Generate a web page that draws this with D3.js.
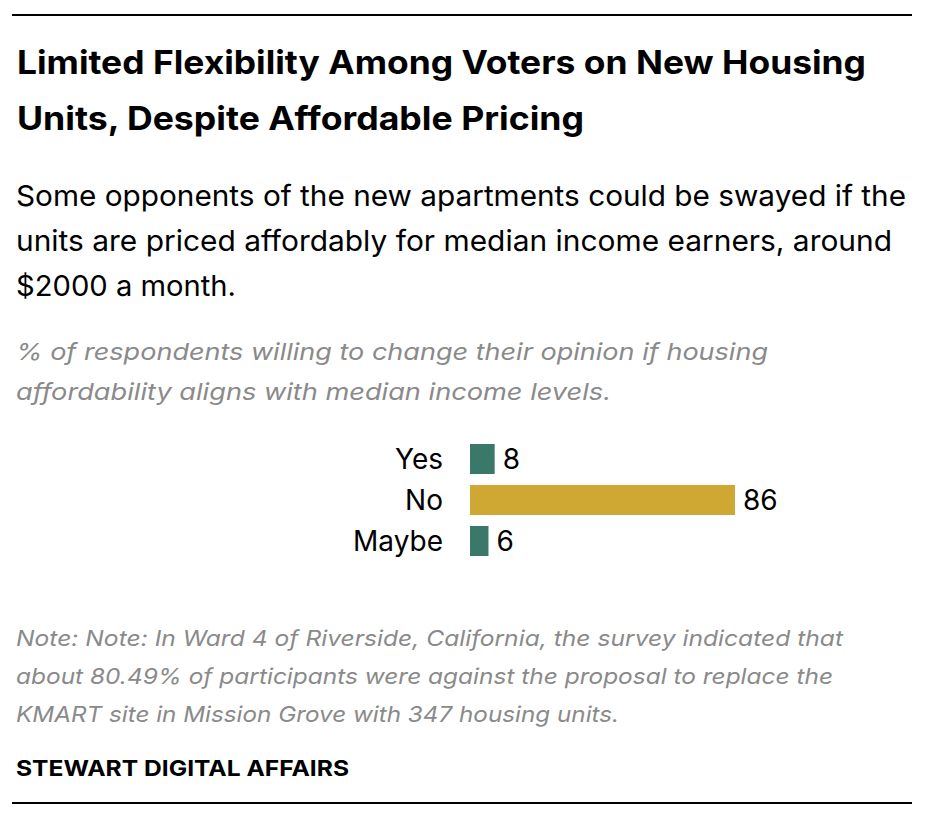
<!DOCTYPE html>
<html>
<head>
<meta charset="utf-8">
<script src="https://cdn.jsdelivr.net/npm/d3@7"></script>
<style>
  html, body { margin: 0; padding: 0; background: #ffffff; }
  svg { display: block; }
</style>
</head>
<body>
<svg id="chart" width="932" height="822"></svg>
<script>
// ---- Data ----
const categories = ["Yes", "No", "Maybe"];
const values = [8, 86, 6];
const barColors = ["#3a786a", "#cfa833", "#3a786a"];

const titleLines = [
  "Limited Flexibility Among Voters on New Housing",
  "Units, Despite Affordable Pricing"
];
const subtitleLines = [
  "Some opponents of the new apartments could be swayed if the",
  "units are priced affordably for median income earners, around",
  "$2000 a month."
];
const descLines = [
  "% of respondents willing to change their opinion if housing",
  "affordability aligns with median income levels."
];
const noteLines = [
  "Note: Note: In Ward 4 of Riverside, California, the survey indicated that",
  "about 80.49% of participants were against the proposal to replace the",
  "KMART site in Mission Grove with 347 housing units."
];
const sourceText = "STEWART DIGITAL AFFAIRS";

// ---- Layout ----
const svg = d3.select("#chart");
const left = 16;
const fontFam = "Inter, 'Noto Sans', 'Liberation Sans', sans-serif";

// rules
svg.append("line").attr("x1", 12).attr("x2", 912).attr("y1", 15).attr("y2", 15)
  .attr("stroke", "#000").attr("stroke-width", 2);
svg.append("line").attr("x1", 12).attr("x2", 912).attr("y1", 803).attr("y2", 803)
  .attr("stroke", "#000").attr("stroke-width", 2);

function textBlock(lines, opts) {
  lines.forEach((t, i) => {
    const el = svg.append("text")
      .attr("x", opts.x)
      .attr("y", opts.y0 + i * opts.dy)
      .attr("font-family", fontFam)
      .attr("font-size", opts.size)
      .attr("font-weight", opts.weight || 400)
      .attr("font-style", opts.style || "normal")
      .attr("fill", opts.fill || "#000")
      .text(t);
    if (opts.widths && opts.widths[i]) {
      el.attr("textLength", opts.widths[i]).attr("lengthAdjust", "spacingAndGlyphs");
    }
  });
}

textBlock(titleLines, { x: left + 1, y0: 74, dy: 55.5, size: 33, weight: 700,
  widths: [849, 567] });
textBlock(subtitleLines, { x: left, y0: 206, dy: 45, size: 29,
  widths: [890, 876, 220] });
textBlock(descLines, { x: left, y0: 360, dy: 40, size: 23.5, style: "italic", fill: "#8a8a8a",
  widths: [752, 595] });
textBlock(noteLines, { x: left, y0: 646, dy: 38, size: 22, style: "italic", fill: "#8a8a8a",
  widths: [827, 817, 603] });
textBlock([sourceText], { x: left, y0: 776, dy: 0, size: 22, weight: 700,
  widths: [333] });

// ---- Bars ----
const data = categories.map((c, i) => ({ cat: c, val: values[i], color: barColors[i] }));

const x = d3.scaleLinear().domain([0, d3.max(values)]).range([470, 735]);
const y = d3.scaleBand().domain(categories).range([444, 556]).paddingInner(0.268).paddingOuter(0);

const g = svg.append("g");

g.selectAll("rect.bar").data(data).join("rect")
  .attr("class", "bar")
  .attr("x", x(0))
  .attr("y", d => y(d.cat))
  .attr("width", d => x(d.val) - x(0))
  .attr("height", y.bandwidth())
  .attr("fill", d => d.color);

g.selectAll("text.cat").data(data).join("text")
  .attr("class", "cat")
  .attr("x", 443)
  .attr("y", d => y(d.cat) + y.bandwidth() / 2 + 10)
  .attr("text-anchor", "end")
  .attr("font-family", fontFam)
  .attr("font-size", 28)
  .attr("fill", "#000")
  .text(d => d.cat);

g.selectAll("text.val").data(data).join("text")
  .attr("class", "val")
  .attr("x", d => x(d.val) + 8)
  .attr("y", d => y(d.cat) + y.bandwidth() / 2 + 10)
  .attr("font-family", fontFam)
  .attr("font-size", 28)
  .attr("fill", "#000")
  .text(d => d.val);
</script>
</body>
</html>
